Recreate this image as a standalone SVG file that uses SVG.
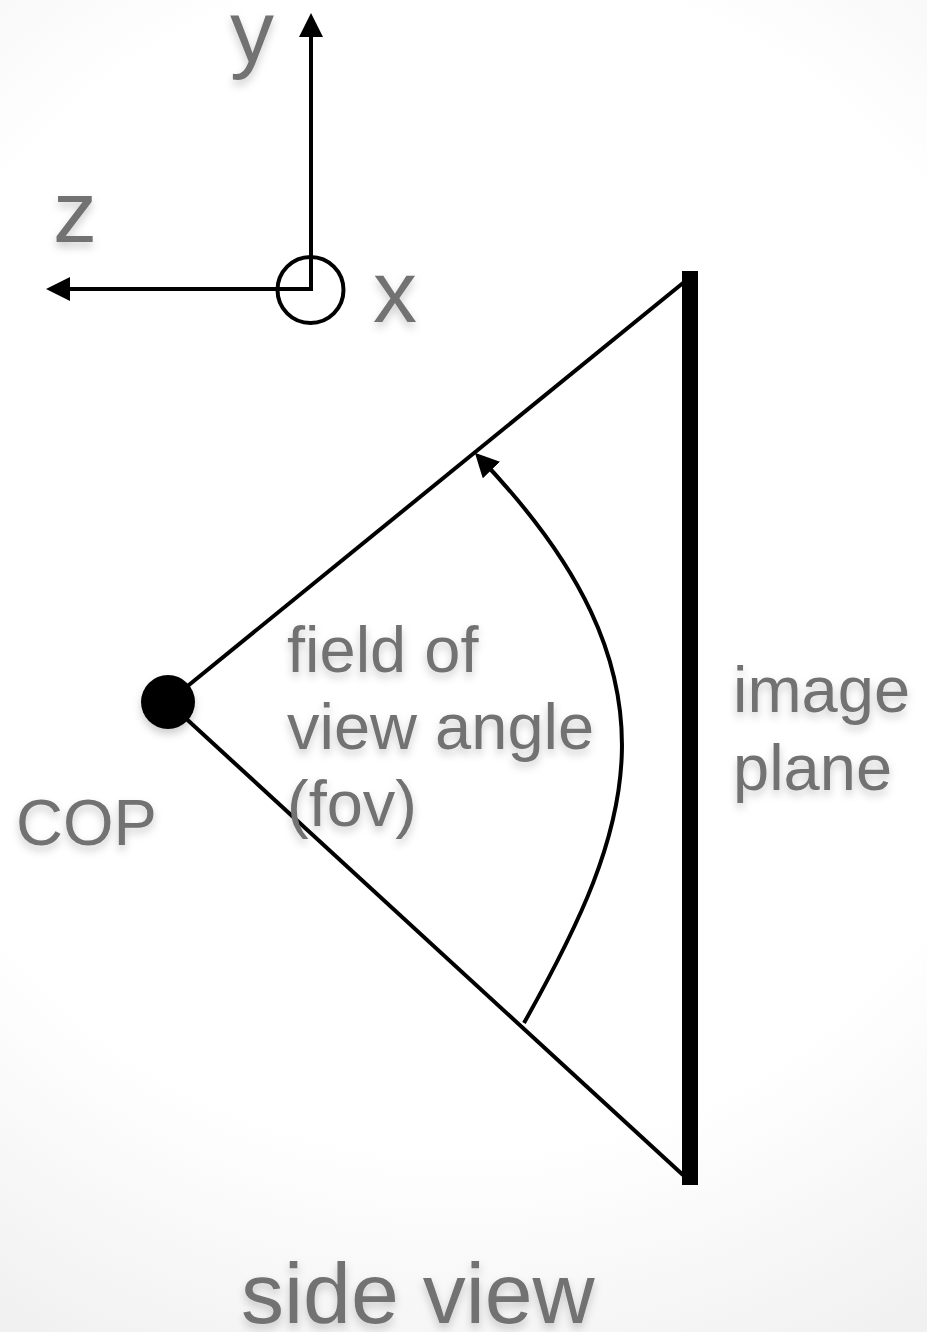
<svg xmlns="http://www.w3.org/2000/svg" width="927" height="1332" viewBox="0 0 927 1332">
  <defs>
    <radialGradient id="bg" cx="460" cy="560" r="980" gradientUnits="userSpaceOnUse">
      <stop offset="0" stop-color="#ffffff"/>
      <stop offset="0.6" stop-color="#ffffff"/>
      <stop offset="1" stop-color="#ececec"/>
    </radialGradient>
    <filter id="shadow" x="-20%" y="-20%" width="140%" height="160%">
      <feDropShadow dx="0" dy="5" stdDeviation="4.5" flood-color="#000" flood-opacity="0.2"/>
    </filter>
    <marker id="arrow" viewBox="0 0 24 24" markerWidth="24" markerHeight="24" refX="18" refY="12" orient="auto" markerUnits="userSpaceOnUse">
      <path d="M0,0 L24,12 L0,24 z" fill="#000"/>
    </marker>
    <style>
      .lbl { font-family: "Liberation Sans", Arial, sans-serif; fill: #727272; filter: url(#shadow); }
      .ax { font-size: 88px; }
      .mid { font-size: 65px; }
      .ln { fill: none; stroke: #000; stroke-width: 4; }
    </style>
  </defs>
  <rect x="0" y="0" width="927" height="1332" fill="url(#bg)"/>

  <g id="connectors">
    <line class="ln" x1="311" y1="289" x2="311" y2="19" marker-end="url(#arrow)"/>
    <line class="ln" x1="313" y1="289" x2="52" y2="289" marker-end="url(#arrow)"/>
    <line class="ln" x1="168" y1="702" x2="683" y2="283"/>
    <line class="ln" x1="168" y1="702" x2="683" y2="1175"/>
    <path class="ln" d="M524,1023 C633.2,828.5 690.9,678.1 479,457" marker-end="url(#arrow)"/>
  </g>

  <g id="axis-origin">
    <circle cx="310.5" cy="290" r="33" fill="none" stroke="#000" stroke-width="4"/>
  </g>
  <g id="axis-labels">
    <text class="lbl ax" x="230" y="62">y</text>
    <text class="lbl ax" x="53" y="242">z</text>
    <text class="lbl ax" x="373" y="322">x</text>
  </g>

  <g id="cop">
    <circle cx="168" cy="702" r="27" fill="#000" filter="url(#shadow)"/>
    <text class="lbl mid" x="16" y="845">COP</text>
  </g>

  <g id="image-plane">
    <rect x="682" y="271" width="16" height="914" fill="#000"/>
    <text class="lbl mid" x="733" y="712">image</text>
    <text class="lbl mid" x="733" y="790">plane</text>
  </g>

  <g id="fov-label">
    <text class="lbl mid" x="287" y="672">field of</text>
    <text class="lbl mid" x="287" y="749">view angle</text>
    <text class="lbl mid" x="287" y="826">(fov)</text>
  </g>

  <g id="caption">
    <text class="lbl" style="font-size:86px" x="241" y="1323">side view</text>
  </g>
</svg>
